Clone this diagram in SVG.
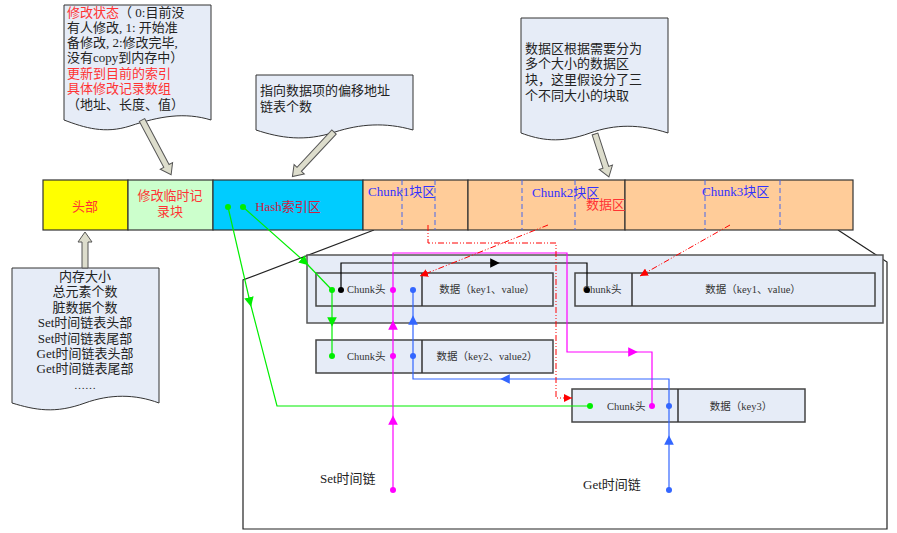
<svg xmlns="http://www.w3.org/2000/svg" width="897" height="533" viewBox="0 0 897 533">
<defs>
<style>
.t{font-family:"Liberation Serif","Noto Sans CJK SC",serif;font-size:13px;fill:#222}
.r{fill:#ff3333}
.b{fill:#3333ff}
.s{font-family:"Liberation Serif","Noto Sans CJK SC",serif;font-size:10.5px;fill:#333}
.co{fill:#e6ecf7;stroke:#333;stroke-width:1}
.fa{fill:#ddddcc;stroke:#555;stroke-width:1}
.bx{fill:#e6ecf7;stroke:#444;stroke-width:1.5}
.seg{stroke:#333;stroke-width:1.2}
.dl{stroke:#4466ee;stroke-width:1;stroke-dasharray:5,3;fill:none}
.g{stroke:#00ee00;fill:none;stroke-width:1.2}
.m{stroke:#ff00ff;fill:none;stroke-width:1.2}
.bl{stroke:#3366ff;fill:none;stroke-width:1.2}
.rd{stroke:#ff0000;fill:none;stroke-width:1;stroke-dasharray:6,2,1,2,1,2}
</style>
<marker id="ag" viewBox="0 0 10 10" refX="5" refY="5" markerWidth="8" markerHeight="8" orient="auto"><path d="M0,0L10,5L0,10Z" fill="#00ee00"/></marker>
<marker id="am" viewBox="0 0 10 10" refX="5" refY="5" markerWidth="8" markerHeight="8" orient="auto"><path d="M0,0L10,5L0,10Z" fill="#ff00ff"/></marker>
<marker id="ab" viewBox="0 0 10 10" refX="5" refY="5" markerWidth="8" markerHeight="8" orient="auto"><path d="M0,0L10,5L0,10Z" fill="#3366ff"/></marker>
<marker id="ak" viewBox="0 0 10 10" refX="5" refY="5" markerWidth="8" markerHeight="8" orient="auto"><path d="M0,0L10,5L0,10Z" fill="#000"/></marker>
<marker id="ar" viewBox="0 0 10 10" refX="10" refY="5" markerWidth="8" markerHeight="8" orient="auto"><path d="M0,0L10,5L0,10Z" fill="#ff0000"/></marker>
</defs>
<rect width="897" height="533" fill="#fff"/>

<g fill="none" stroke="#222" stroke-width="1.2">
<path d="M374,230 L243,280 V529 H887 V262 L838,230"/>
</g>
<rect x="307" y="255" width="576" height="68" fill="#e6ecf7" stroke="#555" stroke-width="1.5"/>

<g id="bar">
<rect x="43" y="180" width="85" height="50" fill="#ffff00" class="seg"/>
<rect x="128" y="180" width="85" height="50" fill="#ccffcc" class="seg"/>
<rect x="213" y="180" width="150" height="50" fill="#00ccff" class="seg"/>
<rect x="363" y="180" width="105" height="50" fill="#ffcc99" class="seg"/>
<rect x="468" y="180" width="157" height="50" fill="#ffcc99" class="seg"/>
<rect x="625" y="180" width="228" height="50" fill="#ffcc99" class="seg"/>
<path class="dl" d="M402,180V230M435,180V230M522,180V230M575,180V230M705,180V230M780,180V230"/>
<text class="t r" x="85" y="211" text-anchor="middle">头部</text>
<text class="t r" x="170" y="200" text-anchor="middle">修改临时记</text>
<text class="t r" x="170" y="216" text-anchor="middle">录块</text>
<text class="t" x="288" y="211" text-anchor="middle" style="fill:#cc2244">Hash索引区</text>
<text class="t b" x="368" y="196">Chunk1块区</text>
<text class="t b" x="532" y="197">Chunk2块区</text>
<text class="t b" x="702" y="196">Chunk3块区</text>
<text class="t r" x="586" y="209">数据区</text>
</g>

<g id="callout1">
<path class="co" d="M64,5H211V120C185,112 160,116 130,126C105,134 85,128 64,120Z"/>
<text class="t" x="67" y="17"><tspan class="r">修改状态</tspan>（ 0:目前没</text>
<text class="t" x="67" y="32">有人修改, 1: 开始准</text>
<text class="t" x="67" y="47">备修改, 2:修改完毕,</text>
<text class="t" x="67" y="62">没有copy到内存中）</text>
<text class="t r" x="67" y="78">更新到目前的索引</text>
<text class="t r" x="67" y="93">具体修改记录数组</text>
<text class="t" x="67" y="109">（地址、长度、值）</text>
<path class="fa" d="M0,-3H52V-7L62,0L52,7V3H0Z" transform="translate(142,120) rotate(62)"/>
</g>
<g id="callout2">
<path class="co" d="M256,75H413V130C385,122 360,124 335,132C305,142 280,138 256,130Z"/>
<text class="t" x="260" y="95">指向数据项的偏移地址</text>
<text class="t" x="260" y="111">链表个数</text>
<path class="fa" d="M0,-3H51V-7L61,0L51,7V3H0Z" transform="translate(334,132) rotate(133)"/>
</g>
<g id="callout3">
<path class="co" d="M521,18H668V133C640,124 615,124 590,133C560,144 540,140 521,133Z"/>
<text class="t" x="525" y="53">数据区根据需要分为</text>
<text class="t" x="525" y="68">多个大小的数据区</text>
<text class="t" x="525" y="84">块，这里假设分了三</text>
<text class="t" x="525" y="100">个不同大小的块取</text>
<path class="fa" d="M0,-3H35V-7L45,0L35,7V3H0Z" transform="translate(595,134) rotate(72)"/>
</g>
<g id="callout4">
<path class="co" d="M12,268H159V403C135,394 110,394 85,403C55,414 35,410 12,403Z"/>
<g class="t" text-anchor="middle">
<text x="85" y="281">内存大小</text>
<text x="85" y="296">总元素个数</text>
<text x="85" y="312">脏数据个数</text>
<text x="85" y="327">Set时间链表头部</text>
<text x="85" y="343">Set时间链表尾部</text>
<text x="85" y="358">Get时间链表头部</text>
<text x="85" y="373">Get时间链表尾部</text>
<text x="85" y="389" style="font-size:11px">……</text>
</g>
<path class="fa" d="M0,-3H26V-7L36,0L26,7V3H0Z" transform="translate(85,268) rotate(-90)"/>
</g>

<g id="chunkA">
<rect class="bx" x="316" y="273" width="237" height="33"/><path stroke="#333" stroke-width="1.5" d="M422,273V306"/>
<text class="s" x="347" y="293">Chunk头</text><text class="s" x="487" y="293" text-anchor="middle">数据（key1、value）</text>
</g>
<g id="chunkB">
<rect class="bx" x="575" y="273" width="300" height="33"/><path stroke="#333" stroke-width="1.5" d="M632,273V306"/>
<text class="s" x="583" y="293">Chunk头</text><text class="s" x="753" y="293" text-anchor="middle">数据（key1、value）</text>
</g>
<g id="chunkC">
<rect class="bx" x="316" y="340" width="237" height="33"/><path stroke="#333" stroke-width="1.5" d="M422,340V373"/>
<text class="s" x="347" y="360">Chunk头</text><text class="s" x="487" y="360" text-anchor="middle">数据（key2、value2）</text>
</g>
<g id="chunkD">
<rect class="bx" x="572" y="389" width="233" height="33"/><path stroke="#333" stroke-width="1.5" d="M678,389V422"/>
<text class="s" x="607" y="410">Chunk头</text><text class="s" x="741" y="410" text-anchor="middle">数据（key3）</text>
</g>

<text class="t" x="320" y="483">Set时间链</text>
<text class="t" x="583" y="489">Get时间链</text>

<g id="connectors">
<path class="g" d="M243,207L305,262" marker-end="url(#ag)"/><path class="g" d="M305,262L332,290"/>
<path class="g" d="M228,207L250,302" marker-end="url(#ag)"/><path class="g" d="M250,302L277,406H590"/>
<path class="g" d="M332,290V322" marker-end="url(#ag)"/><path class="g" d="M332,322V356"/>
<path fill="none" stroke="#000" stroke-width="1.2" d="M341,290V263H495" marker-end="url(#ak)"/><path fill="none" stroke="#000" stroke-width="1.2" d="M495,263H587V290"/>
<path class="m" d="M393,490V420" marker-end="url(#am)"/><path class="m" d="M393,420V325" marker-end="url(#am)"/><path class="m" d="M393,325V253H567V352H633" marker-end="url(#am)"/><path class="m" d="M633,352H652V406"/>
<path class="bl" d="M669,490V440" marker-end="url(#ab)"/><path class="bl" d="M669,440V379H505" marker-end="url(#ab)"/><path class="bl" d="M505,379H413V320" marker-end="url(#ab)"/><path class="bl" d="M413,320V290"/>
<path class="rd" d="M428,225V243H556V398H572" marker-end="url(#ar)"/>
<path class="rd" d="M548,225L420,276" marker-end="url(#ar)"/>
<path class="rd" d="M730,225L640,276" marker-end="url(#ar)"/>
<g fill="#00ee00"><circle cx="228" cy="207" r="3"/><circle cx="243" cy="207" r="3"/><circle cx="332" cy="290" r="3"/><circle cx="332" cy="356" r="3"/><circle cx="590" cy="406" r="3"/></g>
<g fill="#000"><circle cx="341" cy="290" r="3"/><circle cx="587" cy="290" r="3"/></g>
<g fill="#ff00ff"><circle cx="393" cy="290" r="3"/><circle cx="393" cy="356" r="3"/><circle cx="652" cy="406" r="3"/><circle cx="393" cy="490" r="3"/></g>
<g fill="#3366ff"><circle cx="413" cy="290" r="3"/><circle cx="413" cy="356" r="3"/><circle cx="669" cy="406" r="3"/><circle cx="669" cy="490" r="3"/></g>
</g>
</svg>
